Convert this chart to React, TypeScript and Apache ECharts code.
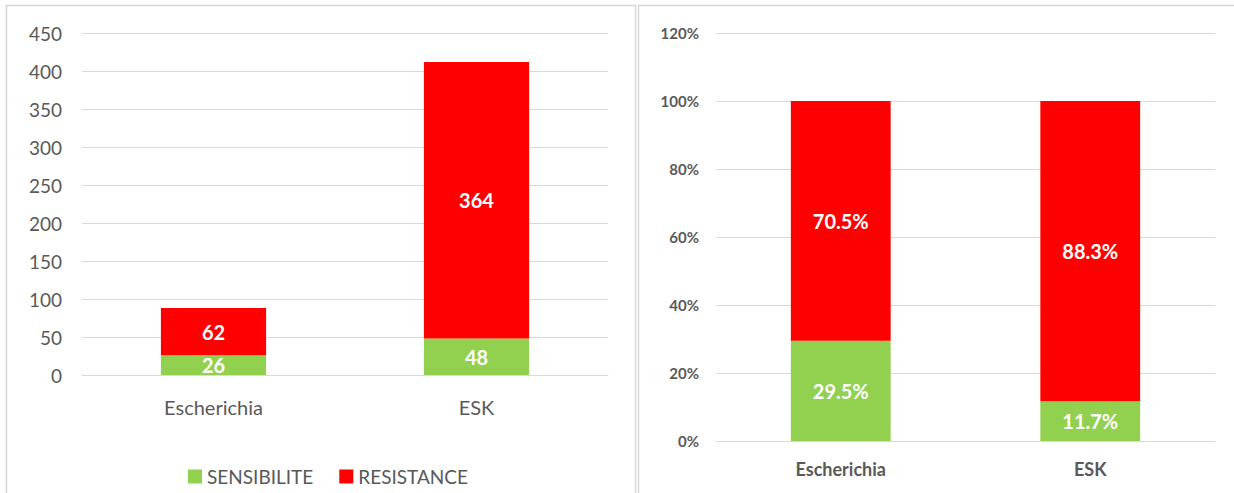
import React, { useEffect, useRef } from "react";
import * as echarts from "echarts";

const categories = ["Escherichia", "ESK"];
const sensibiliteCounts = [26, 48];
const resistanceCounts = [62, 364];
const sensibilitePct = [29.5, 11.7];
const resistancePct = [70.5, 88.3];
const seriesNames = ["SENSIBILITE", "RESISTANCE"];

const GREEN = "#92D050";
const RED = "#FF0000";
const GRID_LINE = "#D9D9D9";
const TEXT = "#595959";
const FONT = "Lato, 'Open Sans', sans-serif";

export default function App() {
  const ref = useRef<HTMLDivElement>(null);
  useEffect(() => {
    if (!ref.current) return;
    const chart = echarts.init(ref.current, undefined, { renderer: "svg" });
    const countLabel = {
      show: true,
      position: "inside",
      color: "#fff",
      fontWeight: "bold",
      fontSize: 20,
      fontFamily: FONT,
    };
    const pctLabel = {
      show: true,
      position: "inside",
      color: "#fff",
      fontWeight: "bold",
      fontSize: 20,
      fontFamily: FONT,
      formatter: (p: any) => Number(p.value).toFixed(1) + "%",
    };
    chart.setOption({
      animation: false,
      backgroundColor: "#fff",
      textStyle: { fontFamily: FONT },
      graphic: [
        {
          type: "rect",
          shape: { x: 6.5, y: 5.5, width: 629, height: 520 },
          style: { fill: "none", stroke: "#D6D6D6", lineWidth: 1.5 },
          silent: true,
        },
        {
          type: "rect",
          shape: { x: 638.5, y: 5.5, width: 620, height: 520 },
          style: { fill: "none", stroke: "#D6D6D6", lineWidth: 1.5 },
          silent: true,
        },
      ],
      legend: {
        data: seriesNames,
        left: 183,
        top: 462,
        icon: "rect",
        itemWidth: 14,
        itemHeight: 14,
        itemGap: 26,
        textStyle: { color: TEXT, fontSize: 19, fontFamily: FONT },
      },
      grid: [
        { left: 82, right: 626, top: 33, bottom: 118, containLabel: false },
        { left: 716, right: 19, top: 33, bottom: 52, containLabel: false },
      ],
      xAxis: [
        {
          type: "category",
          gridIndex: 0,
          data: categories,
          axisTick: { show: false },
          axisLine: { lineStyle: { color: GRID_LINE } },
          axisLabel: { color: TEXT, fontSize: 20, margin: 22, fontFamily: FONT },
        },
        {
          type: "category",
          gridIndex: 1,
          data: categories,
          axisTick: { show: false },
          axisLine: { lineStyle: { color: GRID_LINE } },
          axisLabel: { color: TEXT, fontSize: 18, fontWeight: "bold", margin: 19, fontFamily: FONT },
        },
      ],
      yAxis: [
        {
          type: "value",
          gridIndex: 0,
          min: 0,
          max: 450,
          interval: 50,
          axisLine: { show: false },
          axisTick: { show: false },
          splitLine: { lineStyle: { color: GRID_LINE } },
          axisLabel: { color: TEXT, fontSize: 19, margin: 20, fontFamily: FONT },
        },
        {
          type: "value",
          gridIndex: 1,
          min: 0,
          max: 120,
          interval: 20,
          axisLine: { show: false },
          axisTick: { show: false },
          splitLine: { lineStyle: { color: GRID_LINE } },
          axisLabel: {
            color: TEXT,
            fontSize: 15,
            fontWeight: "bold",
            margin: 17,
            fontFamily: FONT,
            formatter: "{value}%",
          },
        },
      ],
      series: [
        {
          name: seriesNames[0],
          type: "bar",
          xAxisIndex: 0,
          yAxisIndex: 0,
          stack: "counts",
          barWidth: "40%",
          itemStyle: { color: GREEN },
          label: countLabel,
          data: sensibiliteCounts,
        },
        {
          name: seriesNames[1],
          type: "bar",
          xAxisIndex: 0,
          yAxisIndex: 0,
          stack: "counts",
          barWidth: "40%",
          itemStyle: { color: RED },
          label: countLabel,
          data: resistanceCounts,
        },
        {
          name: seriesNames[0],
          type: "bar",
          xAxisIndex: 1,
          yAxisIndex: 1,
          stack: "pct",
          barWidth: "40%",
          itemStyle: { color: GREEN },
          label: pctLabel,
          data: sensibilitePct,
        },
        {
          name: seriesNames[1],
          type: "bar",
          xAxisIndex: 1,
          yAxisIndex: 1,
          stack: "pct",
          barWidth: "40%",
          itemStyle: { color: RED },
          label: pctLabel,
          data: resistancePct,
        },
      ],
    });
    return () => chart.dispose();
  }, []);
  return (
    <div
      ref={ref}
      style={{ position: "absolute", left: 0, top: 0, width: 1234, height: 493 }}
    />
  );
}
